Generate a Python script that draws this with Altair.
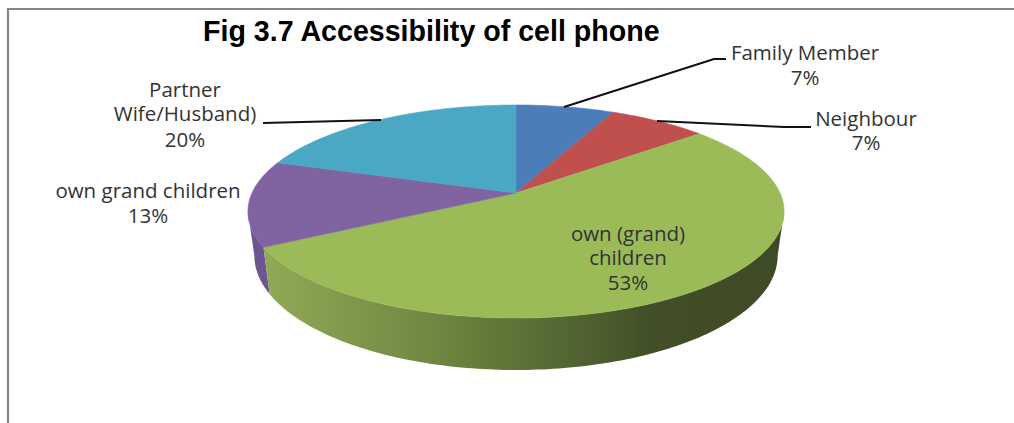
import math
import altair as alt
import pandas as pd

# Chart values
categories = ["Family Member", "Neighbour", "own (grand) children", "own grand children", "Partner Wife/Husband)"]
shares = [7, 7, 53, 13, 20]
slice_colors = ["#4d7db8", "#c0504d", "#9bbb59", "#8064a2", "#4aa8c4"]

W, H = 1014, 423

# Perspective view of the pie: apex, squash and wall depth
APEX_X, APEX_Y = 516, 193
RADIUS_X = 264
TILT = 0.1737
Y_GAIN = -69.76
WALL_SHRINK = 0.976
# Where the rim reaches its rightmost and leftmost points
RIGHT_EDGE = 100 / 360
LEFT_EDGE = 260 / 360


def rim(frac):
    """Screen position of a point on the top rim, frac of the way round from 12 o'clock."""
    t = 2 * math.pi * frac
    u, v = math.sin(t), math.cos(t)
    den = 1 + TILT * v
    return APEX_X + RADIUS_X * u / den, (APEX_Y + Y_GAIN * v) / den


def wall(frac):
    x, y = rim(frac)
    return APEX_X + (x - APEX_X) * WALL_SHRINK, y + 47 + (y - 250) * 0.0735


def arc_fracs(a, b):
    n = max(2, int((b - a) * 360))
    return [a + (b - a) * i / n for i in range(n + 1)]


def shape(points):
    return pd.DataFrame({"x": [p[0] for p in points], "y": [p[1] for p in points], "i": range(len(points))})


x_scale = alt.Scale(domain=[0, W], range=[0, W])
y_scale = alt.Scale(domain=[0, H], range=[0, H])


def enc(chart):
    return chart.encode(
        x=alt.X("x:Q", scale=x_scale, axis=None),
        y=alt.Y("y:Q", scale=y_scale, axis=None),
        order="i:Q",
    )


total = sum(shares)
bounds = [0.0]
for s in shares:
    bounds.append(bounds[-1] + s / total)

layers = []

# Frame along the top and the left
layers.append(enc(alt.Chart(shape([(8, H), (8, 9), (W, 9)])).mark_line(stroke="#868686", strokeWidth=2.2)))

# Side walls of the front slices, clipped to the visible part of the rim
green_wall = alt.Gradient(
    gradient="linear", x1=0, x2=1, y1=0, y2=0,
    stops=[
        alt.GradientStop(offset=0.0, color="#90aa57"),
        alt.GradientStop(offset=0.3, color="#728a43"),
        alt.GradientStop(offset=0.55, color="#566b33"),
        alt.GradientStop(offset=0.75, color="#414e27"),
        alt.GradientStop(offset=1.0, color="#3f4a26"),
    ],
)
for start, end, fill in ((bounds[3], LEFT_EDGE, "#6c5590"), (RIGHT_EDGE, bounds[3], green_wall)):
    fr = arc_fracs(start, end)
    pts = [rim(f) for f in fr] + [wall(f) for f in reversed(fr)]
    layers.append(enc(alt.Chart(shape(pts)).mark_line(fill=fill, strokeWidth=0, interpolate="linear")))

# Top faces of the slices
for idx, color in enumerate(slice_colors):
    pts = [(APEX_X, APEX_Y)] + [rim(f) for f in arc_fracs(bounds[idx], bounds[idx + 1])] + [(APEX_X, APEX_Y)]
    layers.append(enc(alt.Chart(shape(pts)).mark_line(fill=color, stroke=color, strokeWidth=0.6)))

# Leader lines
for pts in (
    [(564, 107), (714, 59), (726, 59)],
    [(657, 121), (784, 127), (811, 127)],
    [(263, 123), (381, 120)],
):
    layers.append(enc(alt.Chart(shape(pts)).mark_line(stroke="#111111", strokeWidth=2)))

# Slice labels
label_lines = [
    ("Family Member", 805, 54), ("7%", 805, 79),
    ("Neighbour", 866, 120), ("7%", 866, 144),
    ("Partner", 185, 91), ("Wife/Husband)", 185, 115), ("20%", 185, 141),
    ("own grand children", 148, 192), ("13%", 148, 217),
    ("own (grand)", 628, 235), ("children", 628, 259), ("53%", 628, 284),
]
labels = pd.DataFrame(label_lines, columns=["text", "x", "y"])
layers.append(
    alt.Chart(labels).mark_text(font="Open Sans", fontSize=20.5, color="#333333", align="center", baseline="middle").encode(
        x=alt.X("x:Q", scale=x_scale, axis=None),
        y=alt.Y("y:Q", scale=y_scale, axis=None),
        text="text:N",
    )
)

# Heading
heading = pd.DataFrame({"text": ["Fig 3.7 Accessibility of cell phone"], "x": [203], "y": [32]})
layers.append(
    alt.Chart(heading).mark_text(font="Liberation Sans", fontSize=28.6, fontWeight="bold", color="#000000", align="left", baseline="middle").encode(
        x=alt.X("x:Q", scale=x_scale, axis=None),
        y=alt.Y("y:Q", scale=y_scale, axis=None),
        text="text:N",
    )
)

chart = (
    alt.layer(*layers)
    .properties(width=W, height=H, padding=0, autosize=alt.AutoSizeParams(type="none"), background="white")
    .configure_view(stroke=None)
)
chart.save("out.html", embed_options={"renderer": "svg", "actions": False})
